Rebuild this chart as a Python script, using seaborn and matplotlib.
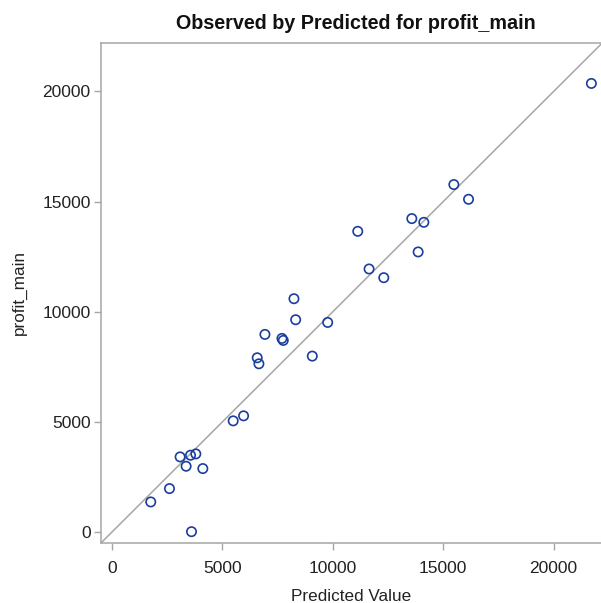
import matplotlib
matplotlib.use("Agg")
import matplotlib.pyplot as plt
import seaborn as sns
import pandas as pd

# Predicted vs observed profit for each observation
predicted = [21710, 15481, 16146, 13578, 14122, 11129, 13864, 11642, 12308,
             8240, 8317, 9768, 6925, 7696, 7755, 9070, 6576, 6653,
             5959, 5488, 3796, 3556, 3084, 3356, 4113, 2603, 1755, 3600]
observed = [20364, 15773, 15105, 14227, 14059, 13650, 12714, 11941, 11545,
            10590, 9636, 9514, 8970, 8788, 8697, 7985, 7909, 7636,
            5273, 5045, 3545, 3485, 3409, 2985, 2879, 1970, 1364, 14]
ticks = [0, 5000, 10000, 15000, 20000]

df = pd.DataFrame({"Predicted Value": predicted, "profit_main": observed})

sns.set_theme(style="white")
plt.rcParams["font.family"] = ["Liberation Sans", "DejaVu Sans"]

grey = "#A6A6A6"
fig = plt.figure(figsize=(6.01, 6.03), dpi=100)
ax = fig.add_axes([0.168, 0.0995, 0.834, 0.8292])

lo, hi = -500, 22200
ax.plot([lo, hi], [lo, hi], color=grey, lw=1.1, zorder=1)

sns.scatterplot(data=df, x="Predicted Value", y="profit_main", ax=ax,
                marker="o", s=45, facecolor="none", edgecolor="#1A3E9E",
                linewidth=1.2, zorder=3)

ax.set_xlim(lo, hi)
ax.set_ylim(lo, hi)
ax.set_xticks(ticks)
ax.set_yticks(ticks)
ax.tick_params(axis="both", direction="out", length=5, width=1, color=grey,
               labelsize=12.5, labelcolor="#222222", bottom=True, left=True)
ax.tick_params(axis="x", pad=8)
ax.tick_params(axis="y", pad=2.5)

for side in ["left", "bottom", "top"]:
    ax.spines[side].set_color(grey)
    ax.spines[side].set_linewidth(1.1)
ax.spines["right"].set_visible(False)

ax.set_xlabel("Predicted Value", fontsize=12.3, color="#222222", labelpad=9)
ax.set_ylabel("profit_main", fontsize=12.3, color="#222222", labelpad=11)
fig.text(0.592, 0.952, "Observed by Predicted for profit_main", fontsize=14.2,
         fontweight="bold", color="#111111", ha="center", va="baseline")

fig.savefig("out.png", dpi=100)
